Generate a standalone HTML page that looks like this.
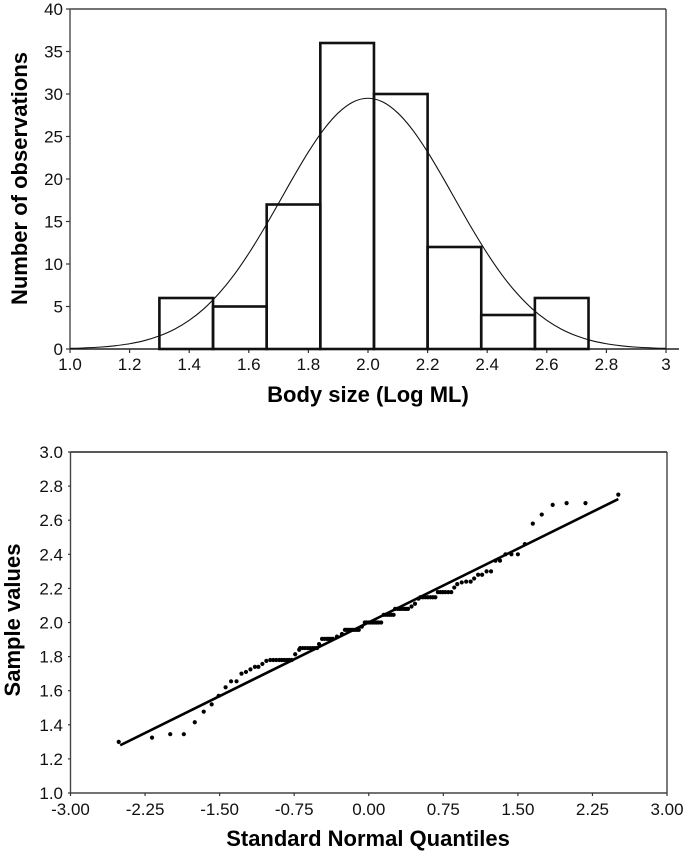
<!DOCTYPE html>
<html lang="en">
<head>
<meta charset="utf-8">
<title>Body size histogram and normal Q-Q plot</title>
<style>
  html, body { margin: 0; padding: 0; background: #fff; }
  #page { position: relative; width: 685px; height: 851px; overflow: hidden; background: #fff; }
  svg { display: block; }
  text { font-family: "Liberation Sans", Arial, sans-serif; fill: #111; }
  .tick-label { font-size: 17px; }
  .axis-title { font-size: 22px; font-weight: bold; fill: #000; }
</style>
</head>
<body>
<div id="page">
<svg id="fig" width="685" height="851" viewBox="0 0 685 851" xmlns="http://www.w3.org/2000/svg">
  <g id="hist"></g>
  <g id="qq"></g>
</svg>
</div>
<script>
// ---- Histogram data ----
const binEdges = [1.30, 1.48, 1.66, 1.84, 2.02, 2.20, 2.38, 2.56, 2.74];
const binCounts = [6, 5, 17, 36, 30, 12, 4, 6];
const curveX = [1.00,1.05,1.10,1.15,1.20,1.25,1.30,1.35,1.40,1.45,1.50,1.55,1.60,1.65,1.70,1.75,1.80,1.85,1.90,1.95,2.00,
                2.05,2.10,2.15,2.20,2.25,2.30,2.35,2.40,2.45,2.50,2.55,2.60,2.65,2.70,2.75,2.80,2.85,2.90,2.95,3.00];
const curveY = [0.07,0.13,0.22,0.38,0.62,0.99,1.54,2.31,3.37,4.76,6.54,8.70,11.25,14.10,17.15,20.24,23.18,25.76,27.77,29.06,29.50,
                29.06,27.77,25.76,23.18,20.24,17.15,14.10,11.25,8.70,6.54,4.76,3.37,2.31,1.54,0.99,0.62,0.38,0.22,0.13,0.07];
const histXTicks = ['1.0','1.2','1.4','1.6','1.8','2.0','2.2','2.4','2.6','2.8','3'];
const histYTicks = ['0','5','10','15','20','25','30','35','40'];

// ---- Q-Q data ----
const qqQuantiles = [
  -2.515,-2.18,-1.997,-1.86,-1.75,-1.66,-1.58,-1.51,-1.44,-1.385,-1.33,-1.28,-1.235,-1.19,-1.145,-1.11,-1.07,-1.03,
  -0.99,-0.96,-0.93,-0.90,-0.875,-0.85,-0.825,-0.80,-0.775,
  -0.74,-0.70,
  -0.69,-0.665,-0.64,-0.615,-0.59,-0.565,-0.54,-0.52,
  -0.50,
  -0.47,-0.445,-0.42,-0.40,-0.38,-0.36,
  -0.32,-0.27,
  -0.24,-0.22,-0.20,-0.18,-0.16,-0.14,-0.12,-0.10,
  -0.07,
  -0.04,-0.02,0,0.02,0.04,0.06,0.08,0.10,0.125,
  0.15,0.17,0.19,0.21,0.23,0.25,
  0.265,0.29,0.31,0.33,0.355,0.375,0.395,
  0.43,0.465,0.50,
  0.52,0.545,0.57,0.595,0.62,0.645,0.67,
  0.695,0.72,0.745,0.77,0.80,0.83,
  0.86,0.89,0.935,0.98,1.025,1.06,1.10,1.14,1.185,1.23,1.275,1.32,1.375,1.435,1.50,1.57,1.65,1.74,1.85,1.99,2.18,2.51
];
const qqValues = [
  1.30,1.325,1.345,1.345,1.415,1.477,1.52,1.57,1.62,1.655,1.655,1.70,1.71,1.725,1.74,1.74,1.757,1.775,
  1.78,1.78,1.78,1.78,1.78,1.78,1.78,1.78,1.78,
  1.814,1.84,
  1.85,1.85,1.85,1.85,1.85,1.85,1.85,1.85,
  1.873,
  1.904,1.904,1.904,1.904,1.904,1.904,
  1.917,1.933,
  1.957,1.957,1.957,1.957,1.957,1.957,1.957,1.957,
  1.976,
  2.00,2.00,2.00,2.00,2.00,2.00,2.00,2.00,2.00,
  2.045,2.045,2.045,2.045,2.045,2.045,
  2.08,2.08,2.08,2.08,2.08,2.08,2.08,
  2.094,2.11,2.14,
  2.148,2.148,2.148,2.148,2.148,2.148,2.148,
  2.178,2.178,2.178,2.178,2.178,2.178,
  2.205,2.225,2.235,2.24,2.24,2.258,2.28,2.28,2.30,2.30,2.363,2.363,2.40,2.40,2.40,2.46,2.58,2.633,2.69,2.70,2.70,2.75
];
const fitLineX = [-2.50, 2.51];
const fitLineY = [1.28, 2.724];
const qqXTicks = ['-3.00','-2.25','-1.50','-0.75','0.00','0.75','1.50','2.25','3.00'];
const qqYTicks = ['1.0','1.2','1.4','1.6','1.8','2.0','2.2','2.4','2.6','2.8','3.0'];

// ---- Axis functions ----
const hx = v => 70 + (v - 1) * 298;
const hy = v => 349 - v * 8.5;
const qx = v => 70.5 + (v + 3) * 99.42;
const qy = v => 793 - (v - 1) * 170.5;

const NS = 'http://www.w3.org/2000/svg';
function make(parent, tag, attrs, content) {
  const el = document.createElementNS(NS, tag);
  for (const k in attrs) el.setAttribute(k, attrs[k]);
  if (content !== undefined) el.textContent = content;
  parent.appendChild(el);
  return el;
}
// Smooth Catmull-Rom path through a list of screen points
function smoothPath(pts) {
  let d = 'M' + pts[0][0].toFixed(2) + ' ' + pts[0][1].toFixed(2);
  for (let i = 0; i < pts.length - 1; i++) {
    const p0 = pts[Math.max(i - 1, 0)], p1 = pts[i], p2 = pts[i + 1], p3 = pts[Math.min(i + 2, pts.length - 1)];
    const c1x = p1[0] + (p2[0] - p0[0]) / 6, c1y = p1[1] + (p2[1] - p0[1]) / 6;
    const c2x = p2[0] - (p3[0] - p1[0]) / 6, c2y = p2[1] - (p3[1] - p1[1]) / 6;
    d += 'C' + c1x.toFixed(2) + ' ' + c1y.toFixed(2) + ' ' + c2x.toFixed(2) + ' ' + c2y.toFixed(2) + ' ' + p2[0].toFixed(2) + ' ' + p2[1].toFixed(2);
  }
  return d;
}
const hist = document.getElementById('hist');
const qq = document.getElementById('qq');
let el;

// ---- Histogram ----
el = make(hist, 'line', {x1: 70, y1: 9, x2: 666, y2: 9, stroke: '#444', 'stroke-width': 1.6});


el = make(hist, 'line', {x1: 666, y1: 9, x2: 666, y2: 349, stroke: '#333', 'stroke-width': 1.3});


el = make(hist, 'line', {x1: 70, y1: 9, x2: 70, y2: 349, stroke: '#555', 'stroke-width': 1.5});


el = make(hist, 'line', {x1: 70, y1: 349, x2: 679, y2: 349, stroke: '#222', 'stroke-width': 1.5});



histXTicks.forEach(t => {
  const v = parseFloat(t);
  let m = make(hist, 'line', {x1: hx(v), y1: 349, x2: hx(v), y2: 353, stroke: '#333', 'stroke-width': 1.2});
  
  
  m = make(hist, 'text', {x: hx(v), y: 370, 'text-anchor': 'middle', class: 'tick-label'}, t);
  
  
});
histYTicks.forEach(t => {
  const v = parseFloat(t);
  let m = make(hist, 'line', {x1: 66, y1: hy(v), x2: 70, y2: hy(v), stroke: '#333', 'stroke-width': 1.2});
  
  
  m = make(hist, 'text', {x: 63, y: hy(v) + 6, 'text-anchor': 'end', class: 'tick-label'}, t);
  
  
});

binCounts.forEach((c, i) => {
  const m = make(hist, 'rect', {
    x: hx(binEdges[i]), y: hy(c),
    width: hx(binEdges[i + 1]) - hx(binEdges[i]), height: hy(0) - hy(c),
    fill: 'none', stroke: '#111', 'stroke-width': 2.6
  });
  
  
});

el = make(hist, 'path', {
  d: smoothPath(curveX.map((x, i) => [hx(x), hy(curveY[i])])),
  fill: 'none', stroke: '#111', 'stroke-width': 1.1
});



el = make(hist, 'text', {x: 368, y: 402, 'text-anchor': 'middle', class: 'axis-title'}, 'Body size (Log ML)');


el = make(hist, 'text', {x: 0, y: 0, 'text-anchor': 'middle', class: 'axis-title', transform: 'translate(27 178.5) rotate(-90)'}, 'Number of observations');



// ---- Q-Q plot ----
el = make(qq, 'line', {x1: 70.5, y1: 452, x2: 667, y2: 452, stroke: '#222', 'stroke-width': 1.4});


el = make(qq, 'line', {x1: 667, y1: 452, x2: 667, y2: 793, stroke: '#333', 'stroke-width': 1.3});


el = make(qq, 'line', {x1: 70.5, y1: 452, x2: 70.5, y2: 793, stroke: '#444', 'stroke-width': 1.4});


el = make(qq, 'line', {x1: 70.5, y1: 793, x2: 667, y2: 793, stroke: '#444', 'stroke-width': 1.5});



qqXTicks.forEach(t => {
  const v = parseFloat(t);
  let m = make(qq, 'line', {x1: qx(v), y1: 793, x2: qx(v), y2: 796, stroke: '#333', 'stroke-width': 1.2});
  
  
  m = make(qq, 'text', {x: qx(v), y: 815, 'text-anchor': 'middle', class: 'tick-label'}, t);
  
  
});
qqYTicks.forEach(t => {
  const v = parseFloat(t);
  let m = make(qq, 'line', {x1: 68, y1: qy(v), x2: 70.5, y2: qy(v), stroke: '#333', 'stroke-width': 1.2});
  
  
  m = make(qq, 'text', {x: 63, y: qy(v) + 6, 'text-anchor': 'end', class: 'tick-label'}, t);
  
  
});

el = make(qq, 'line', {
  x1: qx(fitLineX[0]), y1: qy(fitLineY[0]),
  x2: qx(fitLineX[1]), y2: qy(fitLineY[1]),
  stroke: '#000', 'stroke-width': 2.6
});



qqQuantiles.forEach((q, i) => {
  const m = make(qq, 'circle', {cx: qx(q), cy: qy(qqValues[i]), r: 2.1, fill: '#000'});
  
  
});

el = make(qq, 'text', {x: 368, y: 846, 'text-anchor': 'middle', class: 'axis-title'}, 'Standard Normal Quantiles');


el = make(qq, 'text', {x: 0, y: 0, 'text-anchor': 'middle', class: 'axis-title', transform: 'translate(20 620) rotate(-90)'}, 'Sample values');


</script>
</body>
</html>
